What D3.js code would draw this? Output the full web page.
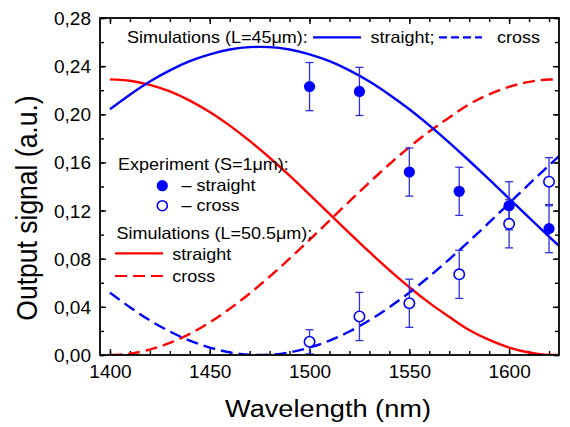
<!DOCTYPE html>
<html>
<head>
<meta charset="utf-8">
<script src="https://cdn.jsdelivr.net/npm/d3@7"></script>
<style>
  html, body { margin: 0; padding: 0; background: #fff; }
  svg { display: block; font-family: "Liberation Sans", Arial, sans-serif; }
</style>
</head>
<body>
<svg id="chart" width="570" height="427"></svg>
<script>
// ---------------- data ----------------
const simWl = [1400,1410,1420,1430,1440,1450,1460,1470,1475,1480,1490,1500,1510,1520,1530,1540,1550,1560,1570,1580,1590,1600,1610,1620,1625];
const sim45Straight = [0.2042,0.2163,0.2272,0.2365,0.2441,0.2498,0.2538,0.2558,0.2560,0.2558,0.2538,0.2498,0.2441,0.2365,0.2272,0.2163,0.2042,0.1908,0.1765,0.1614,0.1459,0.1300,0.1141,0.0984,0.0907];
const sim45Cross    = [0.0518,0.0397,0.0288,0.0195,0.0119,0.0062,0.0022,0.0002,0.0000,0.0002,0.0022,0.0062,0.0119,0.0195,0.0288,0.0397,0.0518,0.0652,0.0795,0.0946,0.1101,0.1260,0.1419,0.1576,0.1653];
const sim505Straight = [0.2290,0.2279,0.2245,0.2190,0.2114,0.2019,0.1906,0.1779,0.1710,0.1639,0.1490,0.1333,0.1173,0.1013,0.0856,0.0705,0.0563,0.0433,0.0317,0.0207,0.0125,0.0062,0.0021,0.0001,0.0000];
const sim505Cross    = [0.0000,0.0011,0.0045,0.0100,0.0176,0.0271,0.0384,0.0511,0.0580,0.0651,0.0800,0.0957,0.1117,0.1277,0.1434,0.1585,0.1727,0.1857,0.1973,0.2083,0.2165,0.2228,0.2269,0.2289,0.2290];

const expWl = [1500,1525,1550,1575,1600,1620];
const expStraight = [0.223,0.219,0.152,0.136,0.124,0.105];
const expStraightErr = [0.020,0.020,0.020,0.020,0.020,0.020];
const expCross = [0.011,0.032,0.043,0.067,0.109,0.144];
const expCrossErr = [0.010,0.020,0.020,0.020,0.020,0.020];

const xTicks = [1400,1450,1500,1550,1600];
const xMinorTicks = d3.range(1400, 1621, 10);
const yTicks = [0,0.04,0.08,0.12,0.16,0.20,0.24,0.28];
const yMinorTicks = d3.range(0, 0.281, 0.02);

const xTitle = "Wavelength (nm)";
const yTitle = "Output signal (a.u.)";

// ---------------- layout ----------------
const svg = d3.select("#chart");
const L = 100, R = 559, T = 18, B = 355;
const x = d3.scaleLinear().domain([1395, 1625]).range([L, R]);
const y = d3.scaleLinear().domain([0, 0.28]).range([B, T]);

const BLUE = "#0000ff", RED = "#ff0000", ERR = "#2f2fe0";

function stretch(sel, k) {
  sel.each(function () {
    const len = this.getComputedTextLength();
    d3.select(this).attr("textLength", len * k).attr("lengthAdjust", "spacingAndGlyphs");
  });
}

svg.append("clipPath").attr("id", "clip")
  .append("rect").attr("x", L).attr("y", T).attr("width", R - L).attr("height", B - T);

// ---------------- axes ----------------
const fmt = d => d3.format(".2f")(d).replace(".", ",");
const tickFont = 19;

const gx = svg.append("g").attr("transform", `translate(0,${B})`)
  .call(d3.axisBottom(x).tickValues(xTicks).tickSize(-6).tickPadding(9).tickFormat(d3.format("d")));
gx.append("g").call(d3.axisBottom(x).tickValues(xMinorTicks).tickSize(-4).tickFormat(""));
const gy = svg.append("g").attr("transform", `translate(${L},0)`)
  .call(d3.axisLeft(y).tickValues(yTicks).tickSize(-6).tickPadding(9).tickFormat(fmt));
gy.append("g").call(d3.axisLeft(y).tickValues(yMinorTicks).tickSize(-4).tickFormat(""));
const gt = svg.append("g").attr("transform", `translate(0,${T})`)
  .call(d3.axisTop(x).tickValues(xTicks).tickSize(-6).tickFormat(""));
gt.append("g").call(d3.axisTop(x).tickValues(xMinorTicks).tickSize(-4).tickFormat(""));
const gr = svg.append("g").attr("transform", `translate(${R},0)`)
  .call(d3.axisRight(y).tickValues(yTicks).tickSize(-6).tickFormat(""));
gr.append("g").call(d3.axisRight(y).tickValues(yMinorTicks).tickSize(-4).tickFormat(""));

svg.selectAll(".domain").remove();
svg.selectAll(".tick line").attr("stroke", "#000").attr("stroke-width", 1.4);
svg.selectAll(".tick text").attr("font-size", tickFont).attr("fill", "#000")
  .attr("font-family", "'Liberation Sans', Arial, sans-serif");
gy.selectAll(".tick text").attr("dy", "0.34em");
gx.selectAll(".tick text").attr("dy", "0.75em");

// ---------------- curves ----------------
const plot = svg.append("g").attr("clip-path", "url(#clip)");
function curve(vals, color, dash) {
  const line = d3.line().x((d, i) => x(simWl[i])).y(d => y(d)).curve(d3.curveMonotoneX);
  plot.append("path").datum(vals).attr("d", line)
    .attr("fill", "none").attr("stroke", color).attr("stroke-width", 2.4)
    .attr("stroke-dasharray", dash || null);
}
curve(sim505Straight, RED);
curve(sim505Cross, RED, "12,6");
curve(sim45Straight, BLUE);
curve(sim45Cross, BLUE, "12,6");

// ---------------- experiment ----------------
function errbars(vals, errs) {
  const g = svg.append("g").attr("stroke", ERR).attr("stroke-width", 1.3);
  expWl.forEach((w, i) => {
    const cx = x(w), y1 = y(vals[i] + errs[i]), y2 = y(vals[i] - errs[i]);
    g.append("line").attr("x1", cx).attr("x2", cx).attr("y1", y1).attr("y2", y2);
    g.append("line").attr("x1", cx - 4).attr("x2", cx + 4).attr("y1", y1).attr("y2", y1);
    g.append("line").attr("x1", cx - 4).attr("x2", cx + 4).attr("y1", y2).attr("y2", y2);
  });
}
errbars(expCross, expCrossErr);
errbars(expStraight, expStraightErr);

svg.append("g").selectAll("circle").data(expCross).join("circle")
  .attr("cx", (d, i) => x(expWl[i])).attr("cy", d => y(d)).attr("r", 5.2)
  .attr("fill", "#fff").attr("stroke", BLUE).attr("stroke-width", 1.6);
svg.append("g").selectAll("circle").data(expStraight).join("circle")
  .attr("cx", (d, i) => x(expWl[i])).attr("cy", d => y(d)).attr("r", 5.6)
  .attr("fill", BLUE);

// ---------------- frame ----------------
svg.append("rect").attr("x", L).attr("y", T).attr("width", R - L).attr("height", B - T)
  .attr("fill", "none").attr("stroke", "#000").attr("stroke-width", 1.8);

// ---------------- legends ----------------
const lg = svg.append("g").attr("font-size", 16.5).attr("fill", "#000");
function txt(xp, yp, s) {
  const t = lg.append("text").attr("x", xp).attr("y", yp).text(s);
  stretch(t, 1.09);
  return t;
}
function lseg(x1, x2, yp, color, dash) {
  lg.append("line").attr("x1", x1).attr("x2", x2).attr("y1", yp).attr("y2", yp)
    .attr("stroke", color).attr("stroke-width", 2.2).attr("stroke-dasharray", dash || null);
}
// top legend
txt(127, 43, "Simulations (L=45\u03bcm):");
lseg(313, 361, 37.3, BLUE);
txt(370.5, 43, "straight;");
lseg(439, 482, 37.3, BLUE, "8,4");
txt(497, 43, "cross");
// experiment legend
txt(118, 170, "Experiment (S=1\u03bcm):");
lg.append("circle").attr("cx", 162.3).attr("cy", 185.7).attr("r", 5.6).attr("fill", BLUE);
txt(181.5, 191, "\u2013 straight");
lg.append("circle").attr("cx", 162.3).attr("cy", 205.7).attr("r", 5.0)
  .attr("fill", "#fff").attr("stroke", BLUE).attr("stroke-width", 1.6);
txt(181.5, 211, "\u2013 cross");
// L=50.5 legend
txt(116.5, 238.5, "Simulations (L=50.5\u03bcm):");
lseg(115, 163, 253.3, RED);
txt(172.3, 259.5, "straight");
lseg(115, 163, 276, RED, "12,6");
txt(172.3, 282, "cross");

// ---------------- axis titles ----------------
svg.append("text").attr("x", 328).attr("y", 417).attr("text-anchor", "middle")
  .attr("font-size", 23.5).attr("fill", "#000").attr("textLength", 206)
  .attr("lengthAdjust", "spacingAndGlyphs").text(xTitle);
svg.append("text").attr("transform", "translate(37,208) rotate(-90) scale(1,1.1)").attr("text-anchor", "middle")
  .attr("font-size", 26.5).attr("fill", "#000").text(yTitle);
</script>
</body>
</html>
